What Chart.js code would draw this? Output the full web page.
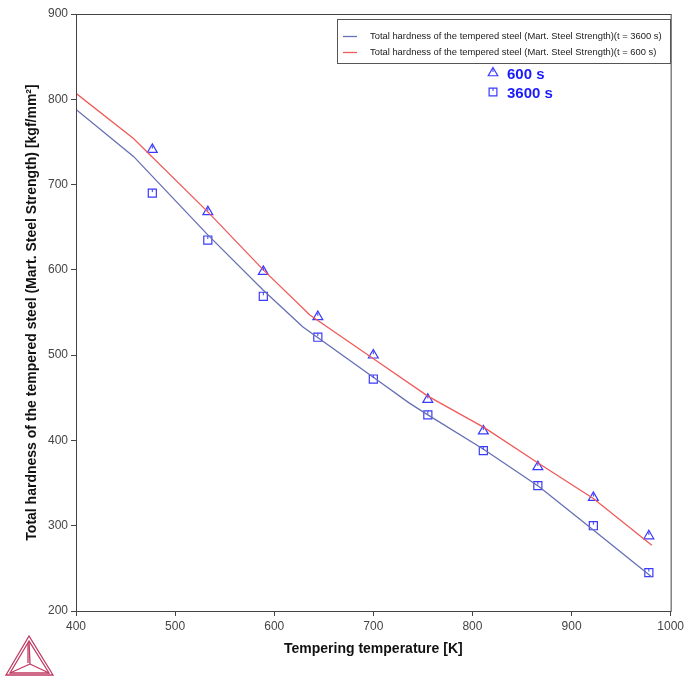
<!DOCTYPE html>
<html lang="en">
<head>
    <meta charset="UTF-8">
    <title>Total hardness of the tempered steel</title>
    <style>
        body { margin: 0; background: #fff; }
        .wrap { position: relative; width: 687px; height: 679px; }
        #logo { position: absolute; left: 4px; top: 632px; }
    </style>
    <script src="https://cdn.jsdelivr.net/npm/chart.js"></script>
</head>
<body>
    <div class="wrap">
        <canvas id="chart" width="687" height="679"></canvas>
        <svg id="logo" width="52" height="46" viewBox="0 0 52 46">
            <g fill="none" stroke="#c03a62" stroke-width="1.3">
                <polygon points="25,4 2,43 49,43"/>
                <polygon points="25,9 6,41 45,41"/>
                <line x1="25" y1="9" x2="26" y2="32"/>
                <line x1="6" y1="41" x2="26" y2="32"/>
                <line x1="45" y1="41" x2="26" y2="32"/>
                <line x1="24" y1="11" x2="24" y2="31"/>
            </g>
        </svg>
    </div>
    <script>
        // calculated lines
        const line600X = [400, 458, 533, 589, 636, 706, 755, 812, 867, 922, 981];
        const line600Y = [807, 754, 668, 600, 547, 491, 452, 415, 373, 332, 277];
        const line3600X = [400, 458, 533, 589, 629, 706, 736, 755, 812, 867, 922, 981];
        const line3600Y = [788, 733, 641, 576, 533, 469, 444, 430, 389, 346, 295, 240];
        // experimental points
        const expX = [477, 533, 589, 644, 700, 755, 811, 866, 922, 978];
        const exp600 = [741, 668, 598, 545, 500, 448, 411, 369, 333, 288];
        const exp3600 = [690, 635, 569, 521, 472, 430, 388, 347, 300, 245];
        const xTicks = [400, 500, 600, 700, 800, 900, 1000];
        const yTicks = [200, 300, 400, 500, 600, 700, 800, 900];

        const label3600 = 'Total hardness of the tempered steel (Mart. Steel Strength)(t = 3600 s)';
        const label600 = 'Total hardness of the tempered steel (Mart. Steel Strength)(t = 600 s)';

        const pts = (xs, ys) => xs.map((x, i) => ({ x: x, y: ys[i] }));
        const FONT = "'Liberation Sans', Arial, sans-serif";
        const markColor = '#3a3aff';

        // frame, legend box, and the "600 s / 3600 s" key
        const extras = {
            id: 'extras',
            afterDatasetsDraw(chart) {
                const ctx = chart.ctx;
                const a = chart.chartArea;
                ctx.save();
                // small inner stroke of the markers
                ctx.strokeStyle = markColor;
                ctx.lineWidth = 1;
                [2, 3].forEach(di => {
                    chart.getDatasetMeta(di).data.forEach(p => {
                        ctx.beginPath();
                        ctx.moveTo(p.x, p.y - 4);
                        ctx.lineTo(p.x, p.y - 1);
                        ctx.stroke();
                    });
                });
                // box round the plot
                ctx.strokeStyle = '#444';
                ctx.lineWidth = 1;
                ctx.strokeRect(a.left + 0.5, a.top + 0.5, a.right - a.left, a.bottom - a.top);
                // legend
                ctx.fillStyle = '#fff';
                ctx.fillRect(337, 19, 333, 44);
                ctx.strokeStyle = '#555';
                ctx.strokeRect(337.5, 19.5, 333, 44);
                ctx.font = '9.4px ' + FONT;
                ctx.textBaseline = 'middle';
                ctx.fillStyle = '#1a1a1a';
                [[label3600, '#6670b4', 36], [label600, '#f05a5a', 52]].forEach(([t, c, y]) => {
                    ctx.strokeStyle = c;
                    ctx.lineWidth = 1.3;
                    ctx.beginPath();
                    ctx.moveTo(343, y + 0.5);
                    ctx.lineTo(357, y + 0.5);
                    ctx.stroke();
                    ctx.fillText(t, 370, y);
                });
                // key for the measured points
                ctx.fillStyle = 'rgba(0,0,0,0)';
                ctx.strokeStyle = markColor;
                ctx.lineWidth = 1.2;
                Chart.helpers.drawPoint(ctx, { pointStyle: 'triangle', radius: 5.5, borderWidth: 1.2 }, 493, 73);
                Chart.helpers.drawPoint(ctx, { pointStyle: 'rect', radius: 5.5, borderWidth: 1.2 }, 493, 92);
                ctx.lineWidth = 1;
                [73, 92].forEach(y => {
                    ctx.beginPath();
                    ctx.moveTo(493, y - 4);
                    ctx.lineTo(493, y - 1);
                    ctx.stroke();
                });
                ctx.font = 'bold 15px ' + FONT;
                ctx.fillStyle = '#1a1aff';
                ctx.fillText('600 s', 507, 75);
                ctx.fillText('3600 s', 507, 94);
                ctx.restore();
            }
        };

        new Chart(document.getElementById('chart'), {
            type: 'scatter',
            data: {
                datasets: [
                    { label: label3600, data: pts(line3600X, line3600Y), showLine: true, borderColor: '#6670b4', borderWidth: 1.3, pointRadius: 0, tension: 0 },
                    { label: label600, data: pts(line600X, line600Y), showLine: true, borderColor: '#f05a5a', borderWidth: 1.3, pointRadius: 0, tension: 0 },
                    { label: '600 s', data: pts(expX, exp600), pointStyle: 'triangle', pointRadius: 5.7, borderColor: markColor, backgroundColor: 'rgba(0,0,0,0)', borderWidth: 1.2 },
                    { label: '3600 s', data: pts(expX, exp3600), pointStyle: 'rect', pointRadius: 5.7, borderColor: markColor, backgroundColor: 'rgba(0,0,0,0)', borderWidth: 1.2 }
                ]
            },
            options: {
                responsive: false,
                animation: false,
                layout: { padding: { top: 14, right: 13, left: 0, bottom: 0 } },
                plugins: { legend: { display: false }, tooltip: { enabled: false } },
                scales: {
                    x: {
                        type: 'linear', min: 400, max: 1000,
                        afterBuildTicks: s => { s.ticks = xTicks.map(v => ({ value: v })); },
                        afterFit: s => { s.height = 68; },
                        grid: { drawOnChartArea: false, drawTicks: true, tickLength: 5, color: '#444' },
                        border: { color: '#444' },
                        ticks: { padding: 3, color: '#444', font: { family: FONT, size: 12 }, maxRotation: 0, callback: v => String(v) },
                        title: { display: true, text: 'Tempering temperature [K]', color: '#111', font: { family: FONT, size: 14, weight: 'bold' }, padding: { bottom: 21 } }
                    },
                    y: {
                        type: 'linear', min: 200, max: 900,
                        afterBuildTicks: s => { s.ticks = yTicks.map(v => ({ value: v })); },
                        afterFit: s => { s.width = 76; },
                        grid: { drawOnChartArea: false, drawTicks: true, tickLength: 5, color: '#444' },
                        border: { color: '#444' },
                        ticks: { padding: 3, color: '#444', font: { family: FONT, size: 12 }, callback: v => String(v) },
                        title: { display: true, text: 'Total hardness of the tempered steel (Mart. Steel Strength) [kgf/mm²]', color: '#111', font: { family: FONT, size: 14, weight: 'bold' }, padding: { top: 24 } }
                    }
                }
            },
            plugins: [extras]
        });
    </script>
</body>
</html>
